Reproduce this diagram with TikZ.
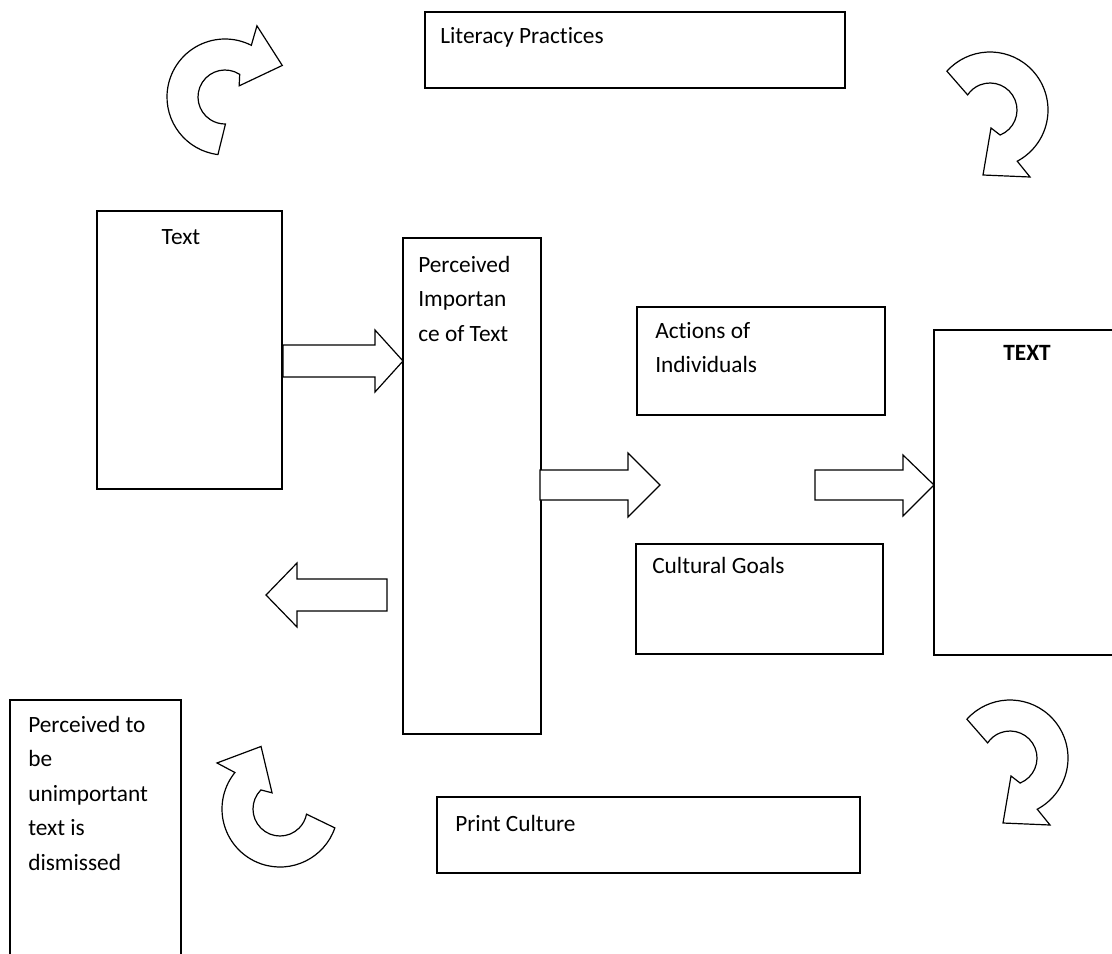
\documentclass[tikz,border=0pt]{standalone}
\usepackage{fontspec}
\setmainfont{Carlito}[Ligatures=NoCommon]
\begin{document}
\begin{tikzpicture}[x=0.75pt,y=-0.75pt,
  box/.style={draw, line width=0.9pt, inner sep=0pt, outer sep=0pt, anchor=north west},
  lbl/.style={anchor=base west, inner sep=0pt, align=left, font=\fontsize{17.5}{25.875}\selectfont},
  blk/.style={draw, line width=0.9pt, fill=white, line join=miter},
  curvarrow/.pic={\draw[blk] (222:58) arc[start angle=222,end angle=422,radius=58] -- (40,67) -- (-7,65) -- (1,18) -- (428:27) arc[start angle=428,end angle=214,radius=27] -- cycle;}]
\useasboundingbox (0,0) rectangle (1112,953);
% boxes
\node[box, minimum width=315pt, minimum height=57pt] (lp) at (425,12) {};
\node[box, minimum width=138.75pt, minimum height=208.5pt] (txt) at (97,211) {};
\node[box, minimum width=103.5pt, minimum height=372pt] (pi) at (403,238) {};
\node[box, minimum width=186pt, minimum height=81pt] (act) at (637,307) {};
\node[box, minimum width=145pt, minimum height=243.75pt] (TXT) at (934,330) {};
\node[box, minimum width=185.25pt, minimum height=82.5pt] (cg) at (636,544) {};
\node[box, minimum width=128.25pt, minimum height=200pt] (ptb) at (10,700) {};
\node[box, minimum width=317.25pt, minimum height=57pt] (pc) at (437,797) {};
% labels
\node[lbl] (lpl) at (440,43) {Literacy Practices};
\node[lbl, anchor=base] (txtl) at (181,244) {Text};
\node[lbl] (pil) at (418,341) {Perceived\\Importan\\ce of Text};
\node[lbl] (actl) at (655,372.5) {Actions of\\Individuals};
\node[lbl, anchor=base, font=\fontsize{17.5}{25.875}\selectfont\bfseries] (TXTl) at (1027,360) {TEXT};
\node[lbl] (cgl) at (652,573) {Cultural Goals};
\node[lbl] (ptbl) at (28,870) {Perceived to\\be\\unimportant\\text is\\dismissed};
\node[lbl] (pcl) at (455,831) {Print Culture};
% block arrows
\draw[blk] (283,345) -- (375,345) -- (375,330) -- (403,361) -- (375,392) -- (375,377) -- (283,377) -- cycle;
\draw[blk] (540,470) -- (628,470) -- (628,453) -- (660,485) -- (628,517) -- (628,500) -- (540,500) -- cycle;
\draw[blk] (815,470) -- (903,470) -- (903,455) -- (934,485) -- (903,516) -- (903,500) -- (815,500) -- cycle;
\draw[blk] (387,579) -- (297,579) -- (297,563) -- (266,595) -- (297,627) -- (297,611) -- (387,611) -- cycle;
% curved arrows
\pic[rotate=125] at (225,97) {curvarrow};
\pic at (990,110) {curvarrow};
\pic[rotate=203] at (280,809) {curvarrow};
\pic at (1010,758) {curvarrow};
\end{tikzpicture}
\end{document}
